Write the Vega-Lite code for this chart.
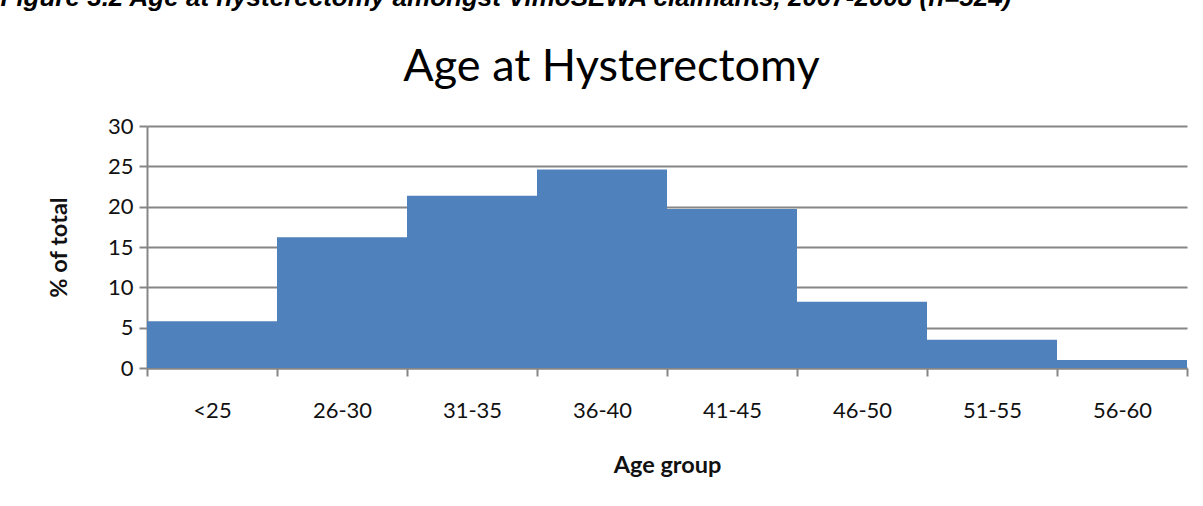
{
  "$schema": "https://vega.github.io/schema/vega-lite/v6.json",
  "autosize": "none",
  "padding": {"left": 147, "top": 126, "right": 16, "bottom": 138},
  "width": 1040,
  "height": 242,
  "background": "white",
  "config": {
    "font": "Lato",
    "view": {"stroke": null}
  },
  "data": {
    "values": [
      {"group": "<25", "start": 0, "end": 1, "pct": 5.8},
      {"group": "26-30", "start": 1, "end": 2, "pct": 16.2},
      {"group": "31-35", "start": 2, "end": 3, "pct": 21.35},
      {"group": "36-40", "start": 3, "end": 4, "pct": 24.6},
      {"group": "41-45", "start": 4, "end": 5, "pct": 19.7},
      {"group": "46-50", "start": 5, "end": 6, "pct": 8.2},
      {"group": "51-55", "start": 6, "end": 7, "pct": 3.5},
      {"group": "56-60", "start": 7, "end": 8, "pct": 1.0}
    ]
  },
  "resolve": {"axis": {"x": "independent"}},
  "layer": [
    {
      "mark": {"type": "bar", "color": "#4F81BD"},
      "encoding": {
        "x": {
          "field": "start",
          "type": "quantitative",
          "scale": {"domain": [0, 8], "nice": false, "zero": false},
          "axis": {
            "values": [0, 1, 2, 3, 4, 5, 6, 7, 8],
            "labelExpr": "['<25','26-30','31-35','36-40','41-45','46-50','51-55','56-60',''][datum.value]",
            "labelOffset": 65,
            "labelFlush": false,
            "labelOverlap": false,
            "labelFont": "Lato",
            "labelFontSize": 22,
            "labelColor": "#111111",
            "labelPadding": 24,
            "tickSize": 8,
            "tickColor": "#868686",
            "tickWidth": 2,
            "domainColor": "#868686",
            "domainWidth": 2,
            "grid": false,
            "title": "Age group",
            "titleFont": "Lato",
            "titleFontSize": 23.5,
            "titleFontWeight": "bold",
            "titleColor": "#111111",
            "titlePadding": 32
          }
        },
        "x2": {"field": "end"},
        "y": {
          "field": "pct",
          "type": "quantitative",
          "scale": {"domain": [0, 30], "nice": false},
          "axis": {
            "values": [0, 5, 10, 15, 20, 25, 30],
            "labelFont": "Lato",
            "labelFontSize": 22,
            "labelColor": "#111111",
            "labelPadding": 6,
            "tickSize": 8,
            "tickColor": "#868686",
            "tickWidth": 2,
            "domainColor": "#868686",
            "domainWidth": 2,
            "grid": true,
            "gridColor": "#868686",
            "gridWidth": 2,
            "title": "% of total",
            "titleFont": "Lato",
            "titleFontSize": 23.5,
            "titleFontWeight": "bold",
            "titleColor": "#111111",
            "titlePadding": 36
          }
        },
        "y2": {"datum": 0}
      }
    },
    {
      "mark": {"type": "bar", "color": "#4F81BD", "opacity": 0},
      "encoding": {
        "x": {
          "field": "start",
          "type": "quantitative",
          "axis": {
            "orient": "top",
            "domain": false,
            "ticks": false,
            "labels": false,
            "grid": false,
            "title": "Figure 3.2 Age at hysterectomy amongst VimoSEWA claimants, 2007-2008 (n=524)",
            "titleFont": "Liberation Sans",
            "titleFontSize": 26,
            "titleFontStyle": "italic",
            "titleFontWeight": "bold",
            "titleColor": "#000000",
            "titleAnchor": "start",
            "titleAlign": "left",
            "titleBaseline": "alphabetic",
            "titleX": -147,
            "titleY": -121
          }
        },
        "x2": {"field": "end"},
        "y": {"field": "pct", "type": "quantitative"},
        "y2": {"datum": 0}
      }
    },
    {
      "mark": {"type": "bar", "color": "#4F81BD", "opacity": 0},
      "encoding": {
        "x": {
          "field": "start",
          "type": "quantitative",
          "axis": {
            "orient": "top",
            "domain": false,
            "ticks": false,
            "labels": false,
            "grid": false,
            "title": "Age at Hysterectomy",
            "titleFont": "Lato",
            "titleFontSize": 45,
            "titleFontWeight": "normal",
            "titleColor": "#000000",
            "titleAnchor": "start",
            "titleAlign": "center",
            "titleBaseline": "alphabetic",
            "titleX": 464,
            "titleY": -46
          }
        },
        "x2": {"field": "end"},
        "y": {"field": "pct", "type": "quantitative"},
        "y2": {"datum": 0}
      }
    }
  ]
}
